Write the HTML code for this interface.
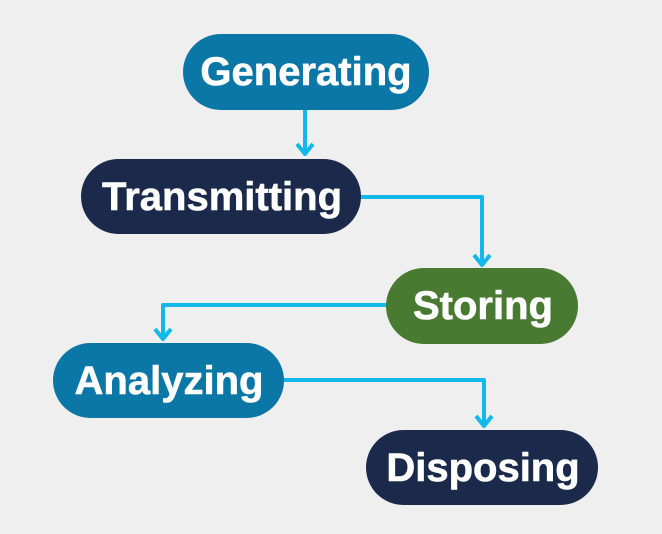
<!DOCTYPE html>
<html><head><style>
html,body{margin:0;padding:0;background:#efefef;}
svg{display:block;}
text{font-family:"Liberation Sans",Arial,sans-serif;font-weight:bold;font-size:40px;fill:#fff;text-anchor:middle;dominant-baseline:central;stroke:#fff;stroke-width:0.6;}
</style></head><body>
<svg width="662" height="534" viewBox="0 0 662 534">
<rect width="662" height="534" fill="#efefef"/>
<g stroke="#12b8ea" stroke-width="4" fill="none" stroke-linejoin="round">
<path d="M305 110 V155"/><path d="M297 144 L305 154 L313 144"/>
<path d="M355 197 H482 V266"/><path d="M474 255 L482 265 L490 255"/>
<path d="M390 305 H163 V340"/><path d="M155 329 L163 339 L171 329"/>
<path d="M280 380 H484 V427"/><path d="M476 416 L484 426 L492 416"/>
</g>
<rect x="183" y="34" width="246" height="76" rx="38" fill="#0a77a6"/>
<text x="306" y="72">Generating</text>
<rect x="81" y="159" width="280" height="75" rx="37.5" fill="#1b2a4a"/>
<text x="222" y="197">Transmitting</text>
<rect x="386" y="268" width="192" height="76" rx="38" fill="#487a32"/>
<text x="483" y="306">Storing</text>
<rect x="53" y="343" width="231" height="75" rx="37.5" fill="#0a77a6"/>
<text x="169" y="381">Analyzing</text>
<rect x="366" y="430" width="232" height="75" rx="37.5" fill="#1b2a4a"/>
<text x="483" y="468">Disposing</text>
</svg>
</body></html>
